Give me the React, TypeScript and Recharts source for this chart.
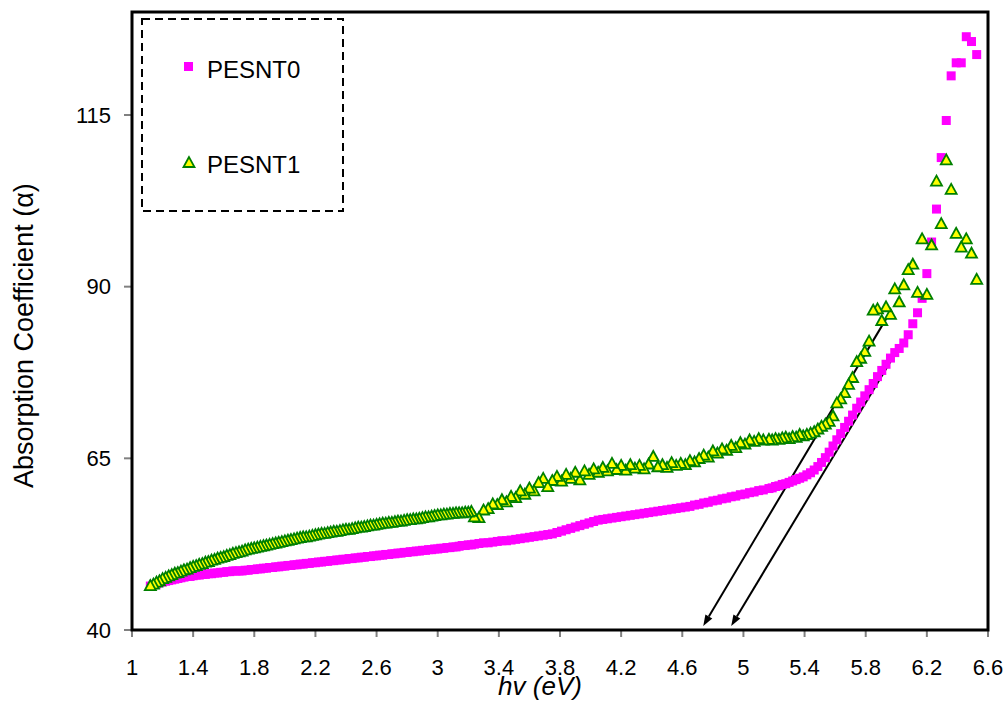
import React from "react";
import { ScatterChart, Scatter, XAxis, YAxis, ReferenceLine } from "recharts";

const FONT = "'Liberation Sans', Arial, sans-serif";
const PINK = "#ff00ff";
const TRI_FILL = "#ffff00";
const TRI_STROKE = "#008000";

// photon energy (eV), low-energy part of the spectrum
const HV_LOW = [
  1.12, 1.14, 1.16, 1.18, 1.2, 1.22, 1.24, 1.26, 1.28, 1.3,
  1.32, 1.34, 1.36, 1.38, 1.4, 1.42, 1.44, 1.46, 1.48, 1.5,
  1.52, 1.54, 1.56, 1.58, 1.6, 1.62, 1.64, 1.66, 1.68, 1.7,
  1.72, 1.74, 1.76, 1.78, 1.8, 1.82, 1.84, 1.86, 1.88, 1.9,
  1.92, 1.94, 1.96, 1.98, 2.0, 2.02, 2.04, 2.06, 2.08, 2.1,
  2.12, 2.14, 2.16, 2.18, 2.2, 2.22, 2.24, 2.26, 2.28, 2.3,
  2.32, 2.34, 2.36, 2.38, 2.4, 2.42, 2.44, 2.46, 2.48, 2.5,
  2.52, 2.54, 2.56, 2.58, 2.6, 2.62, 2.64, 2.66, 2.68, 2.7,
  2.72, 2.74, 2.76, 2.78, 2.8, 2.82, 2.84, 2.86, 2.88, 2.9,
  2.92, 2.94, 2.96, 2.98, 3.0, 3.02, 3.04, 3.06, 3.08, 3.1,
  3.12, 3.14, 3.16, 3.18, 3.2, 3.22, 3.24,
];
const PESNT0_LOW = [
  46.4, 46.6, 46.7, 46.9, 47.0, 47.1, 47.2, 47.3, 47.4, 47.5,
  47.6, 47.7, 47.8, 47.8, 47.9, 48.0, 48.0, 48.1, 48.1, 48.2,
  48.2, 48.3, 48.3, 48.4, 48.4, 48.5, 48.5, 48.6, 48.6, 48.6,
  48.6, 48.7, 48.7, 48.8, 48.8, 48.9, 48.9, 49.0, 49.0, 49.1,
  49.1, 49.2, 49.2, 49.3, 49.3, 49.4, 49.4, 49.5, 49.5, 49.6,
  49.6, 49.7, 49.7, 49.8, 49.8, 49.9, 49.9, 50.0, 50.0, 50.1,
  50.1, 50.2, 50.2, 50.3, 50.3, 50.4, 50.4, 50.5, 50.5, 50.6,
  50.6, 50.7, 50.7, 50.8, 50.8, 50.9, 50.9, 51.0, 51.0, 51.1,
  51.1, 51.2, 51.2, 51.3, 51.3, 51.4, 51.4, 51.5, 51.5, 51.6,
  51.6, 51.7, 51.7, 51.8, 51.8, 51.9, 51.9, 52.0, 52.0, 52.1,
  52.1, 52.2, 52.3, 52.3, 52.4, 52.4, 52.5,
];
const PESNT1_LOW = [
  46.4, 46.6, 46.9, 47.1, 47.4, 47.6, 47.8, 48.0, 48.2, 48.3,
  48.5, 48.7, 48.8, 49.0, 49.2, 49.3, 49.5, 49.6, 49.8, 49.9,
  50.1, 50.2, 50.4, 50.5, 50.6, 50.8, 50.9, 51.1, 51.2, 51.3,
  51.4, 51.6, 51.7, 51.8, 51.9, 52.0, 52.1, 52.2, 52.3, 52.4,
  52.5, 52.6, 52.7, 52.8, 52.9, 53.0, 53.1, 53.2, 53.3, 53.4,
  53.5, 53.5, 53.6, 53.7, 53.8, 53.9, 54.0, 54.0, 54.1, 54.2,
  54.3, 54.3, 54.4, 54.5, 54.6, 54.6, 54.7, 54.8, 54.9, 54.9,
  55.0, 55.1, 55.2, 55.2, 55.3, 55.4, 55.5, 55.5, 55.6, 55.6,
  55.7, 55.8, 55.8, 55.9, 56.0, 56.0, 56.1, 56.1, 56.2, 56.3,
  56.4, 56.4, 56.5, 56.6, 56.7, 56.7, 56.8, 56.8, 56.9, 56.9,
  57.0, 57.0, 57.0, 57.1, 57.1, 57.2, 56.4,
];

// middle part
const HV_MID = [
  3.27, 3.3, 3.33, 3.36, 3.39, 3.42, 3.45, 3.48, 3.51, 3.54, 3.57, 3.6, 3.63,
  3.66, 3.69, 3.72, 3.75, 3.78, 3.81, 3.84, 3.87, 3.9, 3.93, 3.96, 3.99, 4.02,
  4.05, 4.08, 4.11, 4.14, 4.17, 4.2, 4.23, 4.26, 4.29, 4.32, 4.35, 4.38, 4.41,
  4.44, 4.47, 4.5, 4.53, 4.56, 4.59, 4.62, 4.65, 4.68, 4.71, 4.74, 4.77, 4.8,
  4.83, 4.86, 4.89, 4.92, 4.95, 4.98, 5.01, 5.04, 5.07, 5.1, 5.13,
];
const PESNT0_MID = [
  52.6, 52.7, 52.7, 52.8, 52.9, 53.0, 53.0, 53.1, 53.2, 53.3, 53.4, 53.5, 53.6,
  53.7, 53.8, 53.9, 54.0, 54.2, 54.4, 54.6, 54.8, 55.0, 55.2, 55.4, 55.6, 55.8,
  56.0, 56.1, 56.2, 56.3, 56.4, 56.5, 56.6, 56.7, 56.8, 56.9, 57.0, 57.1, 57.2,
  57.3, 57.4, 57.5, 57.6, 57.7, 57.8, 57.9, 58.0, 58.2, 58.3, 58.5, 58.6, 58.8,
  58.9, 59.1, 59.2, 59.4, 59.5, 59.7, 59.8, 60.0, 60.1, 60.3, 60.4,
];
const PESNT1_MID = [
  56.3, 57.4, 57.6, 58.3, 58.2, 58.9, 58.6, 59.4, 59.2, 60.2, 59.7, 60.6, 60.2,
  61.4, 62.0, 60.8, 61.7, 62.3, 61.6, 62.6, 62.0, 62.9, 61.8, 63.1, 62.6, 63.4,
  62.9, 63.6, 63.1, 64.2, 63.3, 63.9, 63.2, 64.0, 63.5, 63.9, 63.4, 64.1, 65.2,
  63.7, 64.0, 63.6, 64.3, 63.9, 64.2, 64.0, 64.6, 64.4, 64.9, 65.4, 65.1, 66.0,
  65.7, 66.3, 66.1, 66.8, 66.5, 67.2, 67.0, 67.6, 67.4, 67.8, 67.6,
];

// absorption edge region
const HV_HIGH = [
  5.167, 5.188, 5.21, 5.232, 5.254, 5.277, 5.299, 5.322, 5.345, 5.368, 5.391,
  5.415, 5.439, 5.463, 5.487, 5.511, 5.536, 5.561, 5.586, 5.611, 5.636, 5.662,
  5.688, 5.714, 5.741, 5.767, 5.794, 5.822, 5.849, 5.877, 5.905, 5.933, 5.962,
  5.99, 6.019, 6.049, 6.078, 6.108, 6.139, 6.169, 6.2, 6.231, 6.263, 6.294,
  6.327, 6.359, 6.392, 6.425, 6.458, 6.492, 6.526,
];
const PESNT0_HIGH = [
  60.6, 60.7, 60.9, 61.0, 61.2, 61.3, 61.5, 61.7, 61.9, 62.1, 62.3, 62.6, 62.9,
  63.3, 63.8, 64.4, 65.1, 65.9, 66.8, 67.7, 68.6, 69.5, 70.4, 71.3, 72.3, 73.2,
  74.1, 75.0, 75.9, 76.9, 77.8, 78.7, 79.6, 80.4, 81.0, 81.8, 83.0, 84.6, 86.2,
  88.3, 91.9, 96.5, 101.3, 108.8, 114.2, 120.7, 122.6, 122.6, 126.4, 125.7,
  123.8,
];
const PESNT1_HIGH = [
  67.7, 67.6, 67.8, 67.7, 67.9, 68.0, 67.8, 68.1, 68.0, 68.4, 68.2, 68.4, 68.6,
  68.8, 69.2, 69.6, 69.9, 70.3, 71.1, 73.0, 73.6, 74.5, 75.7, 76.7, 79.0, 79.5,
  80.5, 82.0, 86.5, 86.7, 85.0, 87.0, 85.9, 89.6, 87.7, 90.2, 92.4, 93.2, 89.1,
  96.9, 88.8, 96.0, 105.3, 99.1, 108.4, 104.1, 97.7, 95.7, 96.9, 94.8, 91.0,
];

const X_TICKS = [1, 1.4, 1.8, 2.2, 2.6, 3, 3.4, 3.8, 4.2, 4.6, 5, 5.4, 5.8, 6.2, 6.6];
const Y_TICKS = [40, 65, 90, 115];

// tangent lines extrapolated to the energy axis (tip first)
const TANGENT_PESNT1 = [
  { x: 4.737, y: 40.6 },
  { x: 5.941, y: 85.6 },
];
const TANGENT_PESNT0 = [
  { x: 4.92, y: 40.6 },
  { x: 6.046, y: 82.2 },
];

const HV = [...HV_LOW, ...HV_MID, ...HV_HIGH];
const P0 = [...PESNT0_LOW, ...PESNT0_MID, ...PESNT0_HIGH];
const P1 = [...PESNT1_LOW, ...PESNT1_MID, ...PESNT1_HIGH];

// spectrometer order: short wavelength (high energy) first
const data0 = HV.map((x, i) => ({ x, y: P0[i] })).reverse();
const data1 = HV.map((x, i) => ({ x, y: P1[i] })).reverse();

// plot box
const PLOT = { left: 132, top: 12, right: 988, bottom: 630 };

function Square(props: any) {
  const { cx, cy } = props;
  if (cx == null || cy == null) return null;
  return <rect x={cx - 4.5} y={cy - 4.5} width={9} height={9} fill={PINK} />;
}

function Triangle(props: any) {
  const { cx, cy } = props;
  if (cx == null || cy == null) return null;
  const pts = `${cx},${cy - 6} ${cx - 5.5},${cy + 4} ${cx + 5.5},${cy + 4}`;
  return (
    <polygon
      points={pts}
      fill={TRI_FILL}
      stroke={TRI_STROKE}
      strokeWidth={1.8}
      strokeLinejoin="miter"
    />
  );
}

function Arrow(props: any) {
  const { x1, y1, x2, y2 } = props;
  if ([x1, y1, x2, y2].some((v) => v == null || isNaN(v))) return null;
  const len = Math.hypot(x2 - x1, y2 - y1) || 1;
  const ux = (x2 - x1) / len;
  const uy = (y2 - y1) / len;
  const hl = 11;
  const hw = 4;
  const bx = x1 + ux * hl;
  const by = y1 + uy * hl;
  const head = `${x1},${y1} ${bx - uy * hw},${by + ux * hw} ${bx + uy * hw},${by - ux * hw}`;
  return (
    <g>
      <line x1={bx} y1={by} x2={x2} y2={y2} stroke="#000" strokeWidth={2} />
      <polygon points={head} fill="#000" />
    </g>
  );
}

function Legend() {
  return (
    <g>
      <rect
        x={142}
        y={19}
        width={201}
        height={192}
        fill="#fff"
        stroke="#000"
        strokeWidth={2}
        strokeDasharray="8 5"
      />
      <rect x={184} y={62} width={9} height={9} fill={PINK} />
      <text x={207} y={78} fontFamily={FONT} fontSize={24} fill="#000">
        PESNT0
      </text>
      <Triangle cx={189} cy={163} />
      <text x={207} y={173} fontFamily={FONT} fontSize={24} fill="#000">
        PESNT1
      </text>
    </g>
  );
}

export default function App() {
  const tick = { fontFamily: FONT, fontSize: 22, fill: "#000" };
  return (
    <div style={{ position: "absolute", left: 0, top: 0, width: 1007, height: 702, background: "#fff" }}>
      <ScatterChart
        width={1007}
        height={702}
        margin={{ top: 12, right: 19, bottom: 0, left: 0 }}
      >
        <XAxis
          type="number"
          dataKey="x"
          domain={[1, 6.6]}
          ticks={X_TICKS}
          interval={0}
          allowDataOverflow
          height={72}
          axisLine={false}
          tickLine={{ stroke: "#808080", strokeWidth: 2 }}
          tickSize={7}
          tickMargin={22}
          tick={tick}
        />
        <YAxis
          type="number"
          dataKey="y"
          domain={[40, 130]}
          ticks={Y_TICKS}
          interval={0}
          allowDataOverflow
          width={132}
          axisLine={false}
          tickLine={{ stroke: "#808080", strokeWidth: 2 }}
          tickSize={8}
          tickMargin={13}
          tick={tick}
        />
        <Scatter
          name="PESNT0"
          data={data0}
          shape={<Square />}
          isAnimationActive={false}
        />
        <Scatter
          name="PESNT1"
          data={data1}
          shape={<Triangle />}
          isAnimationActive={false}
        />
        <ReferenceLine segment={TANGENT_PESNT1} shape={<Arrow />} ifOverflow="visible" />
        <ReferenceLine segment={TANGENT_PESNT0} shape={<Arrow />} ifOverflow="visible" />
      </ScatterChart>
      <svg
        width={1007}
        height={702}
        style={{ position: "absolute", left: 0, top: 0, pointerEvents: "none" }}
      >
        <rect
          x={PLOT.left}
          y={PLOT.top}
          width={PLOT.right - PLOT.left}
          height={PLOT.bottom - PLOT.top}
          fill="none"
          stroke="#000"
          strokeWidth={3}
        />
        <Legend />
        <text
          x={33}
          y={488}
          transform="rotate(-90 33 488)"
          fontFamily={FONT}
          fontSize={27}
          fill="#000"
        >
          Absorption Coefficient (α)
        </text>
        <text
          x={540}
          y={695}
          textAnchor="middle"
          fontFamily={FONT}
          fontSize={26}
          fontStyle="italic"
          fill="#000"
        >
          hv (eV)
        </text>
      </svg>
    </div>
  );
}
